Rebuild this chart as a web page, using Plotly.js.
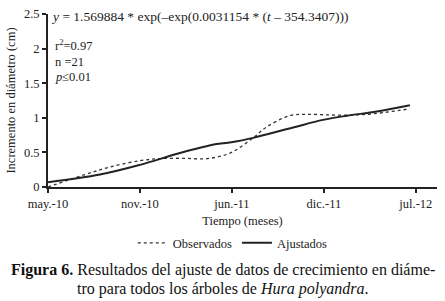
<!DOCTYPE html>
<html>
<head>
<meta charset="utf-8">
<script src="https://cdn.plot.ly/plotly-3.0.1.min.js"></script>
<style>html,body{margin:0;padding:0;background:#fff;}#chart{width:445px;height:301px;}</style>
</head>
<body>
<div id="chart"></div>
<script>
// Days since 1 May 2010
const diasObs = [0, 76, 135, 200, 243, 293, 346, 396, 446, 476, 526, 563, 620, 693, 787];
const observados = [0.00, 0.17, 0.29, 0.38, 0.41, 0.415, 0.41, 0.49, 0.71, 0.87, 1.03, 1.05, 1.04, 1.05, 1.13];
const diasAj = [0, 113, 200, 287, 367, 402, 446, 533, 598, 650, 715, 787];
const ajustados = [0.07, 0.18, 0.32, 0.49, 0.62, 0.65, 0.71, 0.86, 0.97, 1.03, 1.09, 1.18];
const tickDias = [0, 200, 400, 600, 800];
const tickEtiquetas = ["may.-10", "nov.-10", "jun.-11", "dic.-11", "jul.-12"];
const yTicks = [0, 0.5, 1, 1.5, 2, 2.5];
const yEtiquetas = ["0", "0.5", "1", "1.5", "2", "2.5"];

const F = "Liberation Serif";
const C = "#222";

const data = [
  {x: diasObs, y: observados, name: "Observados", mode: "lines",
   line: {color: "#333", width: 1.3, dash: "dot", shape: "spline", smoothing: 1}},
  {x: diasAj, y: ajustados, name: "Ajustados", mode: "lines",
   line: {color: "#222", width: 2, shape: "spline", smoothing: 1}}
];

const layout = {
  width: 445, height: 301,
  margin: {l: 48, r: 8, t: 14, b: 114},
  paper_bgcolor: "#fff", plot_bgcolor: "#fff",
  font: {family: F, size: 12, color: C},
  showlegend: true,
  legend: {orientation: "h", x: 0.475, xanchor: "center", y: -0.325, yanchor: "middle",
           font: {family: F, size: 12.5, color: C}, traceorder: "normal", itemwidth: 30},
  xaxis: {range: [0, 846], tickvals: tickDias, ticktext: tickEtiquetas,
          showline: true, linecolor: C, linewidth: 2, ticks: "outside", tickcolor: C,
          ticklen: 4, tickwidth: 2, showgrid: false, zeroline: false,
          tickfont: {family: F, size: 12.5, color: C},
          title: {text: "Tiempo (meses)", font: {family: F, size: 12.5, color: C}, standoff: 6}},
  yaxis: {range: [0, 2.5], tickvals: yTicks, ticktext: yEtiquetas,
          showline: true, linecolor: C, linewidth: 2, ticks: "outside", tickcolor: C,
          ticklen: 4, tickwidth: 2, showgrid: false, zeroline: false,
          tickfont: {family: F, size: 12.5, color: C},
          title: {text: "Incremento en diámetro (cm)", font: {family: F, size: 12.5, color: C}, standoff: 6}},
  annotations: [
    {xref: "paper", yref: "paper", x: 0.002, y: 0.985, xanchor: "left", yanchor: "middle", showarrow: false,
     text: "<i>y</i> = 1.569884 * exp(–exp(0.0031154 * (<i>t</i> – 354.3407)))",
     font: {family: F, size: 13.5, color: C}},
    {xref: "paper", yref: "paper", x: 0.012, y: 0.82, xanchor: "left", yanchor: "middle", showarrow: false,
     text: "r<sup>2</sup>=0.97", font: {family: F, size: 12.5, color: C}},
    {xref: "paper", yref: "paper", x: 0.012, y: 0.725, xanchor: "left", yanchor: "middle", showarrow: false,
     text: "n =21", font: {family: F, size: 12.5, color: C}},
    {xref: "paper", yref: "paper", x: 0.012, y: 0.635, xanchor: "left", yanchor: "middle", showarrow: false,
     text: "<i>p</i>≤0.01", font: {family: F, size: 12.5, color: C}},
    {xref: "paper", yref: "paper", x: 0.45, y: -0.481, xanchor: "center", yanchor: "middle", showarrow: false,
     text: "<b>Figura 6.</b> Resultados del ajuste de datos de crecimiento en diáme-",
     font: {family: F, size: 16, color: "#111"}},
    {xref: "paper", yref: "paper", x: 0.45, y: -0.591, xanchor: "center", yanchor: "middle", showarrow: false,
     text: "tro para todos los árboles de <i>Hura polyandra</i>.",
     font: {family: F, size: 16, color: "#111"}}
  ]
};

Plotly.newPlot("chart", data, layout, {displayModeBar: false, staticPlot: true});
</script>
</body>
</html>
